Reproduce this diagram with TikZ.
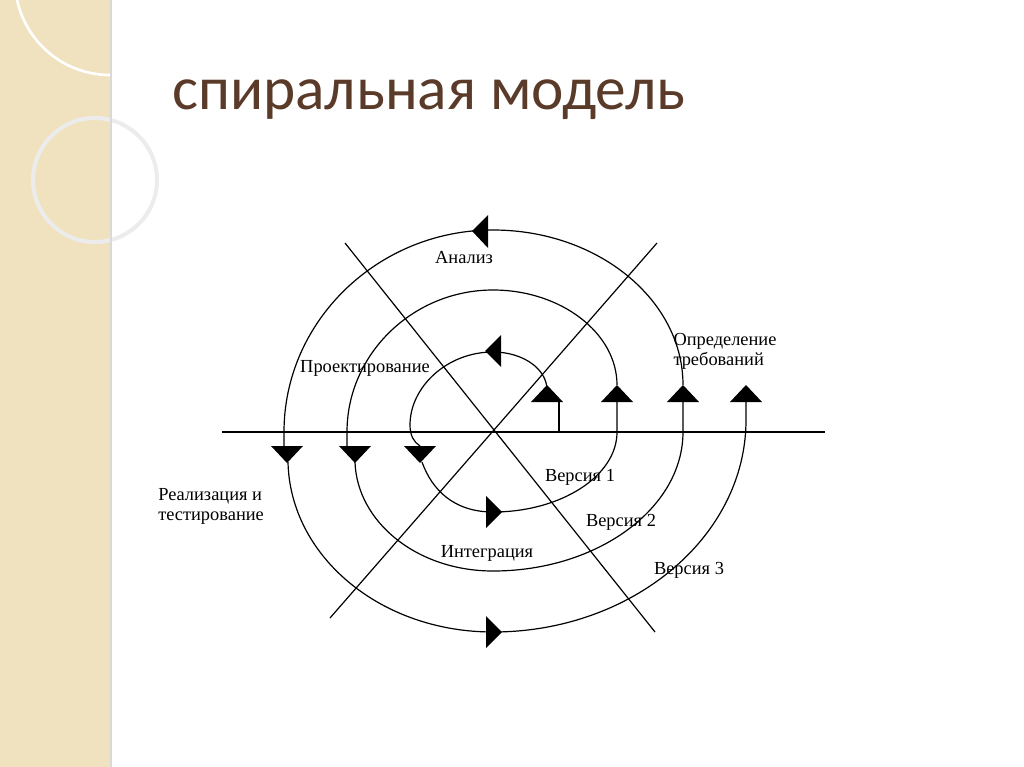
\documentclass[tikz,border=0pt]{standalone}
\usepackage{fontspec}
\setmainfont{Liberation Serif}
\newfontfamily\titlefont{Carlito}
\definecolor{stripe}{HTML}{F0E2BE}
\definecolor{titlec}{HTML}{5A3A28}
\begin{document}
\begin{tikzpicture}[x=0.75pt,y=-0.75pt,
  sp/.style={line width=0.9pt},
  lbl/.style={font=\fontsize{13.8}{15}\selectfont,inner sep=0pt},
  tri/.style={fill=black}]
\useasboundingbox (0,0) rectangle (1024,767);
\fill[white] (0,0) rectangle (1024,767);
\fill[stripe] (0,0) rectangle (110,767);
\draw[white,line width=2pt] (110,-20) circle (95);
\draw[white!85!gray,line width=3pt] (95,180) circle (62);
\draw[gray!30,line width=1pt] (111,0) -- (111,767);
\node[font=\titlefont\fontsize{46}{48}\selectfont,text=titlec,anchor=west,inner sep=0pt] (title) at (172,100) {спиральная модель};
% axes
\draw[sp] (222,432) -- (825,432);
\draw[sp] (345,243) -- (655,632);
\draw[sp] (657,243) -- (330,618);
% spiral
\draw[sp] (559,432) -- (559,402);
\draw[sp] (547,390) .. controls (547,369) and (523,352) .. (493,352)
  .. controls (447,352) and (410,387) .. (410,425) .. controls (410,436) and (414,442) .. (420,446);
\draw[sp] (422,462) .. controls (432,490) and (454,512) .. (493,512)
  .. controls (561,512) and (617,476) .. (617,432) -- (617,402);
\draw[sp] (617,385) .. controls (617,333) and (561,290) .. (493,290)
  .. controls (413,290) and (347,354) .. (347,432) -- (347,446);
\draw[sp] (355,462) .. controls (357,522) and (417,571) .. (493,571)
  .. controls (598,571) and (683,508) .. (683,432) -- (683,402);
\draw[sp] (683,385) .. controls (683,300) and (598,230) .. (493,230)
  .. controls (378,230) and (284,321) .. (284,432) -- (284,446);
\draw[sp] (288,462) .. controls (290,556) and (380,632) .. (493,632)
  .. controls (632,632) and (746,537) .. (746,420) -- (746,402);
% arrowheads
\foreach \x in {547,617,683,746} \fill[tri] (\x-16,402) -- (\x+16,402) -- (\x,385) -- cycle;
\foreach \x in {287,355,420} \fill[tri] (\x-16,446) -- (\x+16,446) -- (\x,463) -- cycle;
\fill[tri] (472,231) -- (488,215) -- (488,248) -- cycle;
\fill[tri] (485,351) -- (501,335) -- (501,367) -- cycle;
\fill[tri] (502,512) -- (486,496) -- (486,528) -- cycle;
\fill[tri] (502,632) -- (486,616) -- (486,648) -- cycle;
% labels
\node[lbl] (an) at (464,258) {Анализ};
\node[lbl] (pr) at (365,368) {Проектирование};
\node[lbl,align=left] (op) at (725,351) {Определение\\требований};
\node[lbl,align=left,anchor=west] (re) at (158,506) {Реализация и\\тестирование};
\node[lbl] (in) at (487,553) {Интеграция};
\node[lbl] (v1) at (580,477) {Версия 1};
\node[lbl] (v2) at (621,522) {Версия 2};
\node[lbl] (v3) at (689,570) {Версия 3};
\end{tikzpicture}
\end{document}
